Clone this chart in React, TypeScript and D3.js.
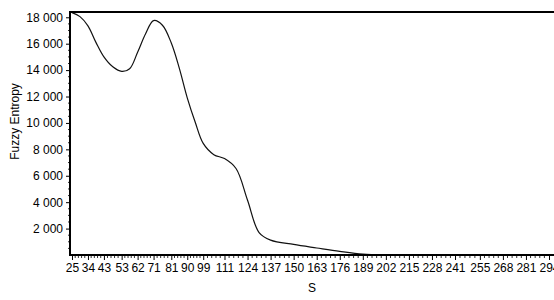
import React, { useRef, useEffect } from 'react';
import * as d3 from 'd3';

// S values that carry a label on the x axis
const sTicks = [25, 34, 43, 53, 62, 71, 81, 90, 99, 111, 124, 137, 150, 163, 176, 189, 202, 215, 228, 241, 255, 268, 281, 294];

// fuzzy entropy curve
const sValues = [25, 29.5, 34, 38.5, 43, 48, 53, 57.5, 62, 66.5, 71, 76, 81, 85.5, 90, 94.5, 99, 105, 111, 117.5, 124, 130.5, 137, 150, 163, 176, 189, 202, 215, 228, 241, 255, 268, 281, 294];
const entropy = [18350, 18050, 17350, 16100, 15000, 14250, 13900, 14100, 15350, 16750, 17750, 17400, 16050, 14150, 11900, 10050, 8450, 7600, 7300, 6550, 4150, 1700, 1130, 800, 530, 270, 60, 0, 0, 0, 0, 0, 0, 0, 0];

const yTicks = [2000, 4000, 6000, 8000, 10000, 12000, 14000, 16000, 18000];

const W = 554;
const H = 300;

const FuzzyChart = () => {
  const svgRef = useRef<SVGSVGElement>(null);

  useEffect(() => {
    const svg = d3.select(svgRef.current);
    svg.selectAll('*').remove();

    const left = 70;
    const right = 560;
    const top = 12;
    const bottom = 255;

    const x = d3.scaleLinear().domain([25, 294]).range([72, 549]);
    const y = d3.scaleLinear().domain([0, 18400]).range([bottom, top]);

    const font = 'Arial, "Liberation Sans", sans-serif';

    svg.append('clipPath').attr('id', 'plot-clip')
      .append('rect')
      .attr('x', left).attr('y', top)
      .attr('width', right - left).attr('height', bottom - top);

    // curve
    const data = sValues.map((s, i) => ({ s, v: entropy[i] }));
    const line = d3.line<{ s: number; v: number }>()
      .x(d => x(d.s))
      .y(d => y(d.v))
      .curve(d3.curveCatmullRom.alpha(0.5));

    svg.append('path')
      .datum(data)
      .attr('clip-path', 'url(#plot-clip)')
      .attr('fill', 'none')
      .attr('stroke', '#111')
      .attr('stroke-width', 1.2)
      .attr('d', line);

    // top border
    svg.append('line')
      .attr('x1', left).attr('x2', right)
      .attr('y1', top).attr('y2', top)
      .attr('stroke', '#000').attr('stroke-width', 2);

    // y axis with minor ticks
    const yMinor = d3.range(500, 18400, 500).filter(v => v % 2000 !== 0);
    svg.append('g')
      .selectAll('line.minor')
      .data(yMinor)
      .enter()
      .append('line')
      .attr('x1', left - 2).attr('x2', left)
      .attr('y1', d => y(d)).attr('y2', d => y(d))
      .attr('stroke', '#333').attr('stroke-width', 1);

    const yAxis = svg.append('g')
      .attr('transform', `translate(${left},0)`)
      .call(d3.axisLeft(y).tickValues(yTicks).tickSize(4).tickSizeOuter(0).tickPadding(3)
        .tickFormat(d => d3.format(',')(d as number).replace(',', ' ')));
    yAxis.select('.domain').remove();
    yAxis.selectAll('text').attr('font-family', font).attr('font-size', 12).attr('fill', '#000');
    yAxis.selectAll('line').attr('stroke', '#000');

    svg.append('line')
      .attr('x1', left).attr('x2', left)
      .attr('y1', top - 1).attr('y2', bottom + 1)
      .attr('stroke', '#000').attr('stroke-width', 2);

    // x axis with minor ticks
    const xMinor: number[] = [];
    sTicks.forEach((s, i) => {
      if (i === 0) return;
      const p = sTicks[i - 1];
      for (let k = 1; k < 5; k++) xMinor.push(p + (s - p) * k / 5);
    });
    svg.append('g')
      .selectAll('line')
      .data(xMinor)
      .enter()
      .append('line')
      .attr('x1', d => x(d)).attr('x2', d => x(d))
      .attr('y1', bottom).attr('y2', bottom + 3)
      .attr('stroke', '#333').attr('stroke-width', 1);

    const xAxis = svg.append('g')
      .attr('transform', `translate(0,${bottom})`)
      .call(d3.axisBottom(x).tickValues(sTicks).tickSize(5).tickSizeOuter(0).tickPadding(3)
        .tickFormat(d => String(d)));
    xAxis.select('.domain').remove();
    xAxis.selectAll('text').attr('font-family', font).attr('font-size', 12).attr('fill', '#000');
    xAxis.selectAll('line').attr('stroke', '#000');

    svg.append('line')
      .attr('x1', left - 1).attr('x2', right)
      .attr('y1', bottom).attr('y2', bottom)
      .attr('stroke', '#000').attr('stroke-width', 2);

    // axis titles
    svg.append('text')
      .attr('x', 312).attr('y', 292)
      .attr('text-anchor', 'middle')
      .attr('font-family', font).attr('font-size', 12)
      .text('S');

    svg.append('text')
      .attr('transform', `translate(19,${(top + bottom) / 2 - 12}) rotate(-90)`)
      .attr('text-anchor', 'middle')
      .attr('font-family', font).attr('font-size', 12)
      .text('Fuzzy Entropy');
  }, []);

  return (
    <svg ref={svgRef} width={W} height={H}
      style={{ position: 'absolute', left: 0, top: 0, background: '#fff' }} />
  );
};

export default function App() {
  return <FuzzyChart />;
}
